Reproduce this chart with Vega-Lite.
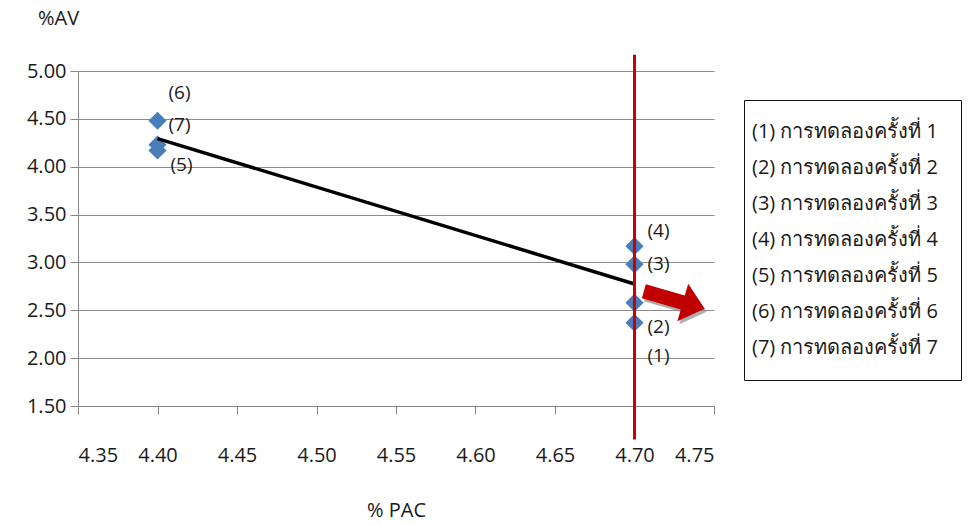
{
  "$schema": "https://vega.github.io/schema/vega-lite/v6.json",
  "width": 636,
  "height": 335,
  "autosize": "none",
  "padding": {"left": 78, "top": 71, "right": 260, "bottom": 119},
  "background": "white",
  "config": {
    "view": {"stroke": null},
    "font": "Open Sans",
    "axis": {"labelFont": "Open Sans", "titleFont": "Open Sans", "labelColor": "#1a1a1a", "titleColor": "#1a1a1a", "titleFontWeight": "normal"}
  },
  "datasets": {
    "pts": [
      {"pac": 4.70, "av": 2.58, "id": "(1)", "name": "(1) การทดลองครั้งที่ 1"},
      {"pac": 4.70, "av": 2.37, "id": "(2)", "name": "(2) การทดลองครั้งที่ 2"},
      {"pac": 4.70, "av": 2.98, "id": "(3)", "name": "(3) การทดลองครั้งที่ 3"},
      {"pac": 4.70, "av": 3.17, "id": "(4)", "name": "(4) การทดลองครั้งที่ 4"},
      {"pac": 4.40, "av": 4.17, "id": "(5)", "name": "(5) การทดลองครั้งที่ 5"},
      {"pac": 4.40, "av": 4.48, "id": "(6)", "name": "(6) การทดลองครั้งที่ 6"},
      {"pac": 4.40, "av": 4.23, "id": "(7)", "name": "(7) การทดลองครั้งที่ 7"}
    ]
  },
  "data": {"name": "pts"},
  "encoding": {
    "x": {"field": "pac", "type": "quantitative",
      "scale": {"domain": [4.35, 4.75], "nice": false, "zero": false},
      "axis": {"title": "% PAC", "values": [4.35, 4.4, 4.45, 4.5, 4.55, 4.6, 4.65, 4.7, 4.75], "format": ".2f",
        "grid": false, "domainColor": "#868686", "tickColor": "#868686", "tickSize": 8, "labelFontSize": 20,
        "labelPadding": 31, "titleFontSize": 20, "titleY": 104, "titleBaseline": "middle"}},
    "y": {"field": "av", "type": "quantitative",
      "scale": {"domain": [1.5, 5], "nice": false, "zero": false},
      "axis": {"title": "%AV", "values": [1.5, 2, 2.5, 3, 3.5, 4, 4.5, 5], "format": ".2f",
        "grid": true, "gridColor": "#8c8c8c", "domainColor": "#868686", "tickColor": "#868686", "tickSize": 8,
        "labelFontSize": 20, "labelPadding": 4, "titleFontSize": 20, "titleAngle": 0, "titleAlign": "center",
        "titleBaseline": "middle", "titleX": -20, "titleY": -53}}
  },
  "layer": [
    {
      "mark": {"type": "point", "shape": "diamond", "filled": true, "size": 330, "opacity": 1},
      "encoding": {
        "color": {"field": "name", "type": "nominal",
          "scale": {"range": ["#4a7ebb", "#4a7ebb", "#4a7ebb", "#4a7ebb", "#4a7ebb", "#4a7ebb", "#4a7ebb"]},
          "legend": {"title": null, "orient": "none", "legendX": 666, "legendY": 29, "fillColor": "white",
            "strokeColor": "#111111", "padding": 22, "symbolOpacity": 0, "symbolSize": 0, "symbolStrokeWidth": 0,
            "labelOffset": -34, "labelFontSize": 20, "labelFont": "Open Sans", "labelColor": "#1a1a1a",
            "rowPadding": 16, "labelLimit": 400}}
      }
    },
    {
      "transform": [{"regression": "av", "on": "pac"}],
      "mark": {"type": "line", "color": "black", "strokeWidth": 3.5}
    },
    {
      "data": {"values": [{"x": 4.70, "y1": 5.17, "y2": 1.15}]},
      "mark": {"type": "rule", "color": "#cc0000", "strokeWidth": 3},
      "encoding": {"x": {"field": "x", "type": "quantitative"}, "y": {"field": "y1", "type": "quantitative"}, "y2": {"field": "y2"}}
    },
    {
      "data": {"values": [{"x": 4.725, "y": 2.607}]},
      "mark": {"type": "point", "shape": "M -1 -0.23 L 0.28 -0.23 L 0.28 -0.62 L 1 0 L 0.28 0.62 L 0.28 0.23 L -1 0.23 Z",
        "filled": true, "color": "#8c8c8c", "opacity": 0.7, "size": 4000, "angle": 16, "xOffset": 2, "yOffset": 3},
      "encoding": {"x": {"field": "x", "type": "quantitative"}, "y": {"field": "y", "type": "quantitative"}}
    },
    {
      "data": {"values": [{"x": 4.725, "y": 2.607}]},
      "mark": {"type": "point", "shape": "M -1 -0.23 L 0.28 -0.23 L 0.28 -0.62 L 1 0 L 0.28 0.62 L 0.28 0.23 L -1 0.23 Z",
        "filled": true, "color": "#c00000", "opacity": 1, "size": 4000, "angle": 16},
      "encoding": {"x": {"field": "x", "type": "quantitative"}, "y": {"field": "y", "type": "quantitative"}}
    },
    {"transform": [{"filter": "datum.id === '(1)'"}], "mark": {"type": "text", "align": "left", "baseline": "middle", "dx": 13, "dy": 53, "fontSize": 19, "color": "#1a1a1a"}, "encoding": {"text": {"field": "id"}}},
    {"transform": [{"filter": "datum.id === '(2)'"}], "mark": {"type": "text", "align": "left", "baseline": "middle", "dx": 13, "dy": 4, "fontSize": 19, "color": "#1a1a1a"}, "encoding": {"text": {"field": "id"}}},
    {"transform": [{"filter": "datum.id === '(3)'"}], "mark": {"type": "text", "align": "left", "baseline": "middle", "dx": 13, "dy": 0, "fontSize": 19, "color": "#1a1a1a"}, "encoding": {"text": {"field": "id"}}},
    {"transform": [{"filter": "datum.id === '(4)'"}], "mark": {"type": "text", "align": "left", "baseline": "middle", "dx": 13, "dy": -15, "fontSize": 19, "color": "#1a1a1a"}, "encoding": {"text": {"field": "id"}}},
    {"transform": [{"filter": "datum.id === '(5)'"}], "mark": {"type": "text", "align": "left", "baseline": "middle", "dx": 13, "dy": 15, "fontSize": 19, "color": "#1a1a1a"}, "encoding": {"text": {"field": "id"}}},
    {"transform": [{"filter": "datum.id === '(6)'"}], "mark": {"type": "text", "align": "left", "baseline": "middle", "dx": 11, "dy": -28, "fontSize": 19, "color": "#1a1a1a"}, "encoding": {"text": {"field": "id"}}},
    {"transform": [{"filter": "datum.id === '(7)'"}], "mark": {"type": "text", "align": "left", "baseline": "middle", "dx": 11, "dy": -20, "fontSize": 19, "color": "#1a1a1a"}, "encoding": {"text": {"field": "id"}}}
  ]
}
